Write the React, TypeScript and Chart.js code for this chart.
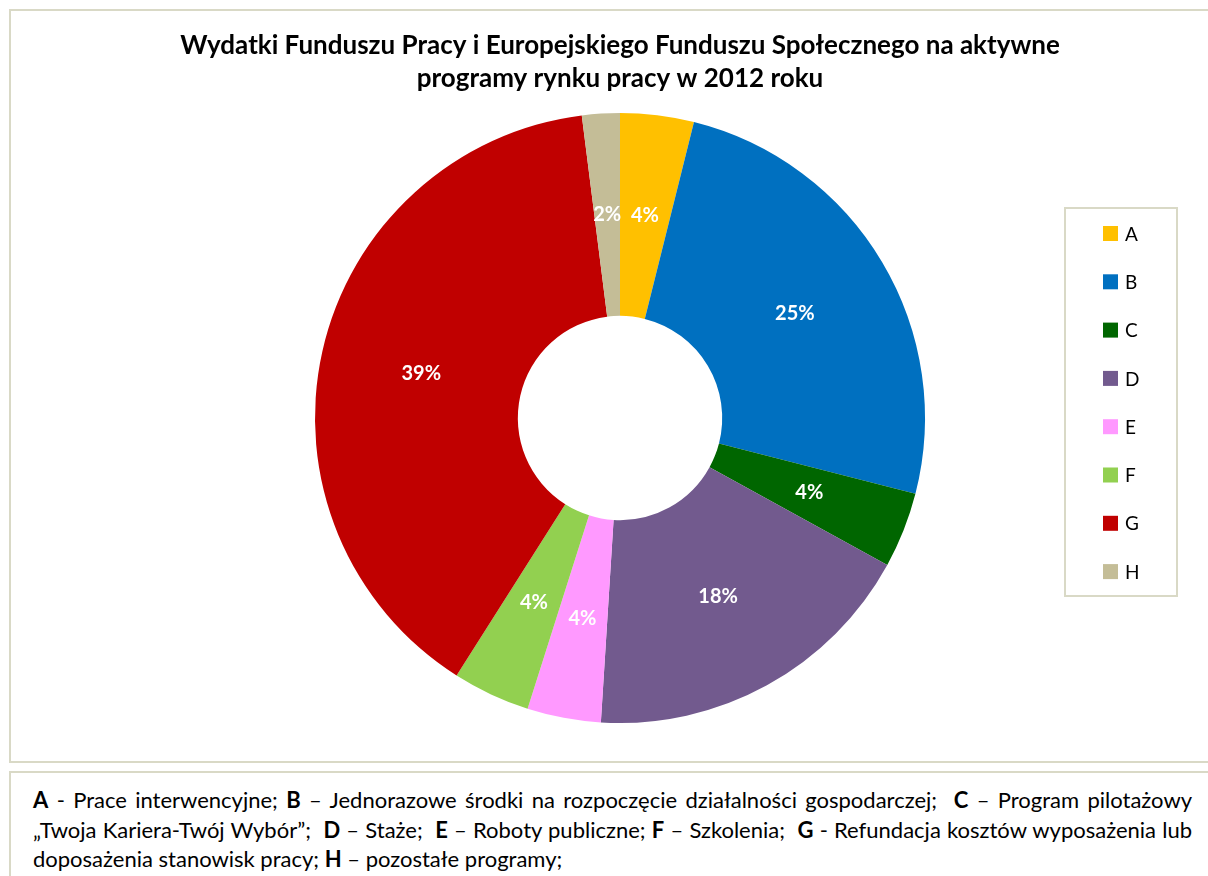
import React, { useEffect, useRef } from "react";
import { Chart, registerables } from "chart.js";

Chart.register(...registerables);

const titleLines = [
  "Wydatki Funduszu Pracy i Europejskiego Funduszu Społecznego na aktywne",
  "programy rynku pracy w 2012 roku",
];
const categories = ["A", "B", "C", "D", "E", "F", "G", "H"];
const shares = [3.9, 25.1, 4.0, 18.0, 3.9, 4.1, 39.0, 2.0];
const colors = ["#FFC000", "#0070C0", "#006600", "#725A8E", "#FF99FF", "#92D050", "#C00000", "#C4BD97"];

const FONT = "Lato, 'Open Sans', sans-serif";
const BORDER = "#D9D9C6";

const pctLabelsPlugin = {
  id: "pctLabels",
  afterDatasetsDraw(chart: any) {
    const ctx = chart.ctx;
    const meta = chart.getDatasetMeta(0);
    const data = chart.data.datasets[0].data as number[];
    const total = data.reduce((a, b) => a + b, 0);
    ctx.save();
    ctx.fillStyle = "#FFFFFF";
    ctx.font = `bold 20px ${FONT}`;
    ctx.textAlign = "center";
    ctx.textBaseline = "middle";
    meta.data.forEach((arc: any, i: number) => {
      const p = arc.tooltipPosition(false);
      ctx.fillText(Math.round((data[i] / total) * 100) + "%", p.x, p.y);
    });
    ctx.restore();
  },
};

const boxLegendPlugin = {
  id: "boxLegend",
  afterDraw(chart: any) {
    const ctx = chart.ctx;
    const labels = chart.data.labels as string[];
    const bg = chart.data.datasets[0].backgroundColor as string[];
    const x0 = 1054, y0 = 197, w = 112, h = 388;
    ctx.save();
    ctx.strokeStyle = BORDER;
    ctx.lineWidth = 2;
    ctx.strokeRect(x0, y0, w, h);
    ctx.font = `19px ${FONT}`;
    ctx.textBaseline = "middle";
    ctx.textAlign = "left";
    labels.forEach((lab, i) => {
      const cy = 222.5 + i * 48.3;
      ctx.fillStyle = bg[i];
      ctx.fillRect(1092, cy - 7.5, 15, 15);
      ctx.fillStyle = "#000";
      ctx.fillText(lab, 1114, cy + 1);
    });
    ctx.restore();
  },
};

export default function App() {
  const ref = useRef<HTMLCanvasElement>(null);
  useEffect(() => {
    const chart = new Chart(ref.current!, {
      type: "doughnut",
      data: {
        labels: categories,
        datasets: [
          {
            data: shares,
            backgroundColor: colors,
            borderWidth: 0,
          },
        ],
      },
      options: {
        responsive: false,
        animation: false,
        cutout: "33.5%",
        layout: { padding: { left: 22, right: 0, top: 0, bottom: 38 } },
        plugins: {
          legend: { display: false },
          tooltip: { enabled: false },
          title: {
            display: true,
            text: titleLines,
            color: "#000",
            font: { family: FONT, size: 26, weight: "bold", lineHeight: 33 / 26 },
            padding: { top: 18, bottom: 18 },
          },
        },
      },
      plugins: [pctLabelsPlugin, boxLegendPlugin],
    });
    return () => chart.destroy();
  }, []);

  const lineStyle: React.CSSProperties = {
    textAlign: "justify",
    textAlignLast: "justify",
    whiteSpace: "nowrap",
    height: 29.5,
    lineHeight: "29.5px",
  };

  return (
    <div style={{ position: "absolute", left: 0, top: 0, width: 1208, height: 876, overflow: "hidden", background: "#fff", fontFamily: FONT }}>
      <div style={{ position: "absolute", left: 9, top: 9, width: 1210, height: 754, border: `2px solid ${BORDER}`, boxSizing: "border-box" }} />
      <canvas ref={ref} width={1196} height={750} style={{ position: "absolute", left: 11, top: 11 }} />
      <div style={{ position: "absolute", left: 9, top: 771, width: 1210, height: 120, border: `2px solid ${BORDER}`, boxSizing: "border-box" }} />
      <div style={{ position: "absolute", left: 33, top: 785, width: 1159, fontSize: 22, color: "#000" }}>
        <div style={lineStyle}>
          <b>A</b> - Prace interwencyjne; <b>B</b> – Jednorazowe środki na rozpoczęcie działalności gospodarczej;&nbsp; <b>C</b> – Program pilotażowy
        </div>
        <div style={lineStyle}>
          „Twoja Kariera-Twój Wybór”;&nbsp; <b>D</b> – Staże;&nbsp; <b>E</b> – Roboty publiczne; <b>F</b> – Szkolenia;&nbsp; <b>G</b> - Refundacja kosztów wyposażenia lub
        </div>
        <div style={{ height: 29.5, lineHeight: "29.5px", textAlign: "left", whiteSpace: "nowrap" }}>
          doposażenia stanowisk pracy; <b>H</b> – pozostałe programy;
        </div>
      </div>
    </div>
  );
}
